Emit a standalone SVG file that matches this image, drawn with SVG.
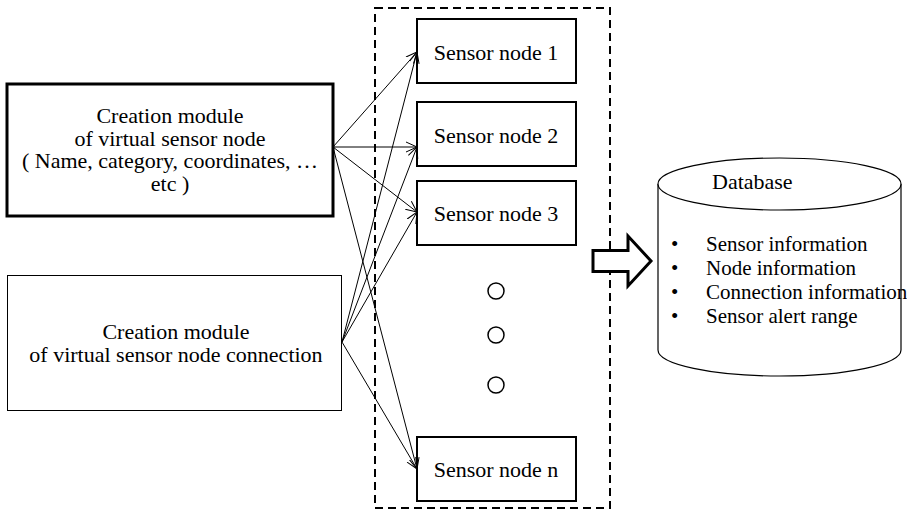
<svg xmlns="http://www.w3.org/2000/svg" width="907" height="512" viewBox="0 0 907 512">
<style>
text{font-family:"Liberation Serif","Times New Roman",serif;fill:#000;}
.t{font-size:22px;text-anchor:middle;}
.l{font-size:21px;}
.box{fill:#fff;stroke:#000;stroke-width:2;}
.con{fill:none;stroke:#000;stroke-width:1;marker-end:url(#ah);}
</style>
<defs>
<marker id="ah" viewBox="0 0 12 12" refX="11" refY="6" markerWidth="12" markerHeight="12" markerUnits="userSpaceOnUse" orient="auto">
<path d="M0,1 L11,6 L0,11" fill="none" stroke="#000" stroke-width="1"/>
</marker>
</defs>
<rect width="907" height="512" fill="#fff"/>
<g id="container">
<rect x="375" y="8" width="235" height="500" fill="none" stroke="#000" stroke-width="2" stroke-dasharray="8,5"/>
</g>
<g id="module1">
<rect x="7" y="84" width="326" height="132" fill="#fff" stroke="#000" stroke-width="3"/>
<text class="t" x="170" y="123">Creation module</text>
<text class="t" x="170" y="146">of virtual sensor node</text>
<text class="t" x="170" y="168">( Name, category, coordinates, …</text>
<text class="t" x="170" y="191">etc )</text>
</g>
<g id="module2">
<rect x="7.5" y="275.5" width="334" height="135" fill="#fff" stroke="#000" stroke-width="1"/>
<text class="t" x="176" y="339">Creation module</text>
<text class="t" x="176" y="362">of virtual sensor node connection</text>
</g>
<g id="node1">
<rect class="box" x="417" y="19" width="159" height="64"/>
<text class="t" x="496" y="60">Sensor node 1</text>
</g>
<g id="node2">
<rect class="box" x="417" y="102" width="159" height="64"/>
<text class="t" x="496" y="143">Sensor node 2</text>
</g>
<g id="node3">
<rect class="box" x="417" y="181" width="159" height="64"/>
<text class="t" x="496" y="221">Sensor node 3</text>
</g>
<g id="noden">
<rect class="box" x="417" y="437" width="159" height="64"/>
<text class="t" x="496" y="477">Sensor node n</text>
</g>
<g id="dots" fill="none" stroke="#000" stroke-width="1.5">
<circle cx="496" cy="291" r="8"/>
<circle cx="496" cy="335" r="8"/>
<circle cx="496" cy="385" r="8"/>
</g>
<g id="connectors">
<line class="con" x1="333" y1="147" x2="417" y2="52"/>
<line class="con" x1="333" y1="147" x2="417" y2="147"/>
<line class="con" x1="333" y1="147" x2="417" y2="212"/>
<line class="con" x1="333" y1="147" x2="417" y2="469"/>
<line class="con" x1="342" y1="342" x2="417" y2="52"/>
<line class="con" x1="342" y1="342" x2="417" y2="147"/>
<line class="con" x1="342" y1="342" x2="417" y2="212"/>
<line class="con" x1="342" y1="342" x2="417" y2="469"/>
<path d="M593,250.5 L628,250.5 L628,236 L651,261 L628,286 L628,271.5 L593,271.5 Z" fill="#fff" stroke="#000" stroke-width="3" stroke-linejoin="miter"/>
</g>
<g id="database">
<path d="M658,184 L658,350 A121.5,26 0 0 0 901,350 L901,184" fill="#fff" stroke="#000" stroke-width="1.2"/>
<ellipse cx="779.5" cy="184" rx="121.5" ry="26" fill="#fff" stroke="#000" stroke-width="1.2"/>
<text x="712" y="189" style="font-size:22px">Database</text>
<text class="l" x="671" y="251">•</text>
<text class="l" x="706" y="251">Sensor information</text>
<text class="l" x="671" y="275">•</text>
<text class="l" x="706" y="275">Node information</text>
<text class="l" x="671" y="299">•</text>
<text class="l" x="706" y="299">Connection information</text>
<text class="l" x="671" y="323">•</text>
<text class="l" x="706" y="323">Sensor alert range</text>
</g>
</svg>
